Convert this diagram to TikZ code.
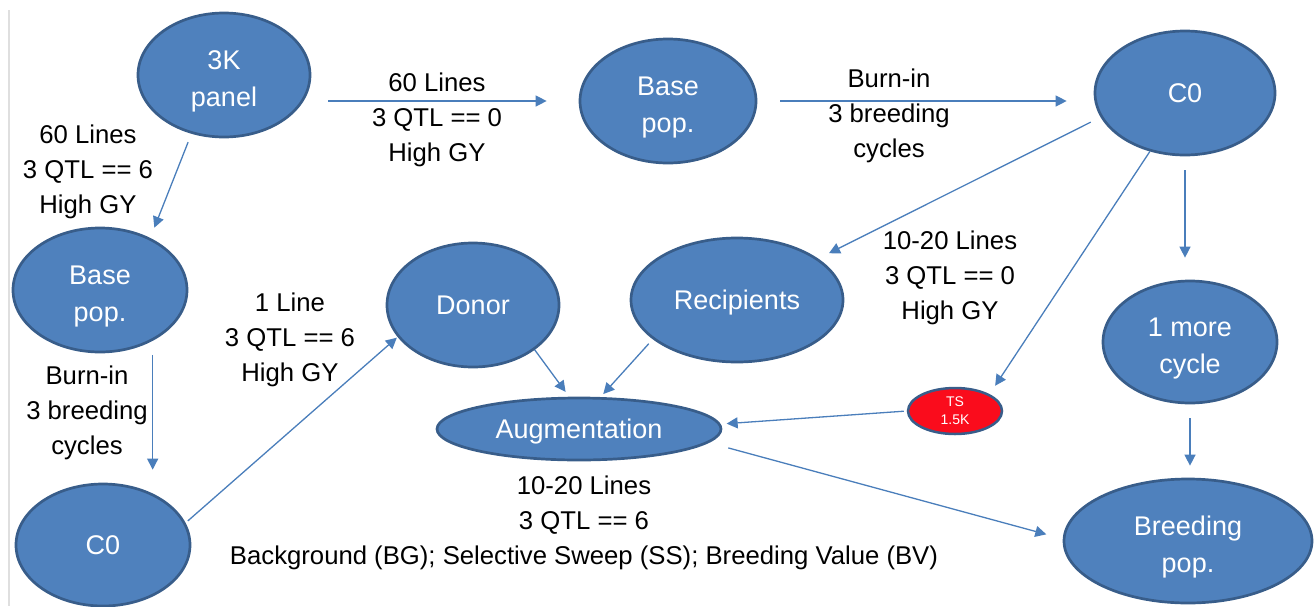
\documentclass[tikz,border=0pt]{standalone}
\usepackage{fontspec}
\setmainfont{Liberation Sans}
\usetikzlibrary{shapes.geometric,arrows.meta}

\definecolor{popblue}{RGB}{79,129,189}
\definecolor{popedge}{RGB}{56,93,138}
\definecolor{flowblue}{RGB}{74,126,187}
\definecolor{tsred}{RGB}{250,12,28}

\begin{document}
\begin{tikzpicture}[x=1pt,y=-1pt,
  pop/.style={shape=ellipse, draw=popedge, line width=2.7pt, fill=popblue, text=white,
    inner sep=0pt, align=center, font=\fontsize{27}{37}\selectfont},
  twoline/.style={text height=63pt, text depth=0pt},
  info/.style={align=center, font=\fontsize{25.7}{35}\selectfont},
  flow/.style={draw=flowblue, line width=1.3pt, -{Triangle[length=11pt,width=11pt]}}]
%%%%%%%%%%%%%%%%%%%%%%%%%%%%%%%%%%%%%%%%%%% HELP LINES
%\draw[help lines, step=50] (0,0) grid (1315,606);
\useasboundingbox (0,0) rectangle (1315,606);
\draw[gray!25, line width=1.5pt] (9,10) -- (9,606);

%%%%%%%%%%%%%%%%%%%%%%%%%%%%%%%%%%%%%%%%%%% populations
\node[pop, twoline, minimum width=172pt, minimum height=124pt](panel) at (224,75) {3K\\panel};
\node[pop, twoline, minimum width=176pt, minimum height=124pt](baseT) at (668,101) {Base\\pop.};
\node[pop, minimum width=180pt, minimum height=124pt](c0T) at (1185,93) {C0};
\node[pop, twoline, minimum width=174pt, minimum height=124pt](baseL) at (100,290) {Base\\pop.};
\node[pop, minimum width=174pt, minimum height=122pt](c0L) at (103,545) {C0};
\node[pop, minimum width=172pt, minimum height=124pt](donor) at (473,305) {Donor};
\node[pop, text depth=0pt, minimum width=212pt, minimum height=124pt](rec) at (737,300) {Recipients};
\node[pop, text depth=0pt, minimum width=284pt, minimum height=62pt](aug) at (579,429) {Augmentation};
\node[pop, twoline, minimum width=174pt, minimum height=122pt](more) at (1190,342) {1 more\\cycle};
\node[pop, twoline, minimum width=248pt, minimum height=124pt](breed) at (1188,541) {Breeding\\pop.};
\node[pop, fill=tsred, line width=2.5pt, minimum width=94pt, minimum height=46pt,
  font=\fontsize{14}{18}\selectfont](ts) at (955,411) {TS\\1.5K};

%%%%% labels
\node[info](lblA) at (88,172) {60 Lines\\3 QTL == 6\\High GY};
\node[info](lblB) at (437,120) {60 Lines\\3 QTL == 0\\High GY};
\node[info](lblC) at (889,116) {Burn-in\\3 breeding\\cycles};
\node[info](lblD) at (950,278) {10-20 Lines\\3 QTL == 0\\High GY};
\node[info](lblE) at (290,340) {1 Line\\3 QTL == 6\\High GY};
\node[info](lblF) at (87,413) {Burn-in\\3 breeding\\cycles};
\node[info](lblG) at (584,523) {10-20 Lines\\3 QTL == 6\\Background (BG); Selective Sweep (SS); Breeding Value (BV)};

%%%%% arrows
\draw[flow, shorten <=9pt, shorten >=11pt] (panel.241) -- (baseL.46);
\draw[flow, shorten <=17pt, shorten >=32pt] (baseT.west -| panel.east) -- (baseT.west);
\draw[flow, shorten <=23pt, shorten >=27pt] (baseT.east) -- (baseT.east -| c0T.west);
\draw[flow, shorten <=11pt, shorten >=12pt] (c0T.196) -- (rec.27);
\draw[flow, shorten >=10pt] (c0T.239) -- (ts.26);
\draw[flow, shorten <=14pt, shorten >=22pt] (c0T.south) -- (c0T.south |- more.north);
\draw[flow, shorten <=14pt, shorten >=12pt] (more.south) -- (more.south |- breed.north);
\draw[flow, shorten <=3pt, shorten >=6pt] (ts.west) -- (aug.2);
\draw[flow, shorten >=6pt] (donor.324) -- (aug.107);
\draw[flow, shorten <=6pt, shorten >=4pt] (rec.205) -- (aug.56);
\draw[flow, shorten <=20pt, shorten >=17pt] (aug.354) -- (breed.179);
\draw[flow, shorten <=14pt, shorten >=13pt] (baseL.316) -- (baseL.316 |- c0L.north);
\draw[flow, shorten <=3pt, shorten >=1pt] (c0L.15) -- (donor.203);
\end{tikzpicture}
\end{document}
